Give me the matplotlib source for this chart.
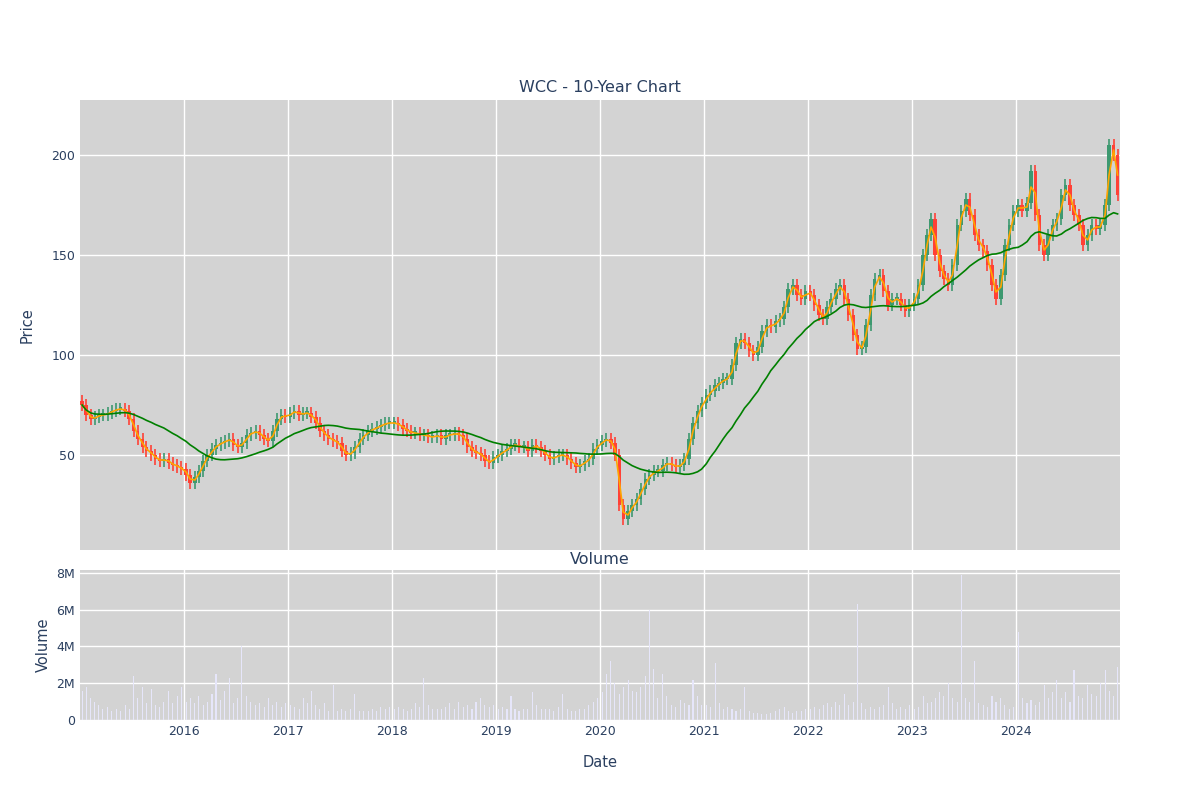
import matplotlib.pyplot as plt
import numpy as np
import pandas as pd

# semi-monthly closing prices, 2015-2024
close = [
    75, 70, 68, 69, 70, 70, 71, 72, 73, 73, 72, 68, 62, 58, 54, 52, 50, 48, 47, 48, 46, 45, 44, 43,
    40, 36, 39, 42, 47, 50, 53, 55, 56, 57, 58, 55, 54, 56, 60, 61, 62, 60, 58, 57, 62, 68, 70, 69,
    71, 72, 70, 71, 71, 69, 66, 62, 60, 58, 57, 56, 52, 50, 51, 54, 58, 60, 62, 63, 64, 65, 66, 66,
    66, 65, 63, 62, 61, 61, 60, 60, 59, 59, 60, 58, 60, 60, 61, 60, 58, 54, 52, 51, 50, 47, 46, 49,
    50, 52, 53, 55, 55, 54, 54, 52, 55, 54, 52, 50, 48, 49, 50, 50, 48, 46, 44, 45, 47, 48, 53, 55,
    57, 58, 56, 50, 25, 18, 22, 25, 28, 33, 38, 40, 42, 42, 45, 46, 45, 44, 45, 48, 58, 66, 72, 76,
    80, 82, 85, 86, 88, 88, 95, 106, 108, 106, 102, 100, 104, 112, 115, 114, 117, 118, 124, 133, 135, 130, 128, 132,
    130, 125, 120, 118, 124, 128, 133, 135, 128, 120, 110, 103, 104, 115, 130, 138, 140, 132, 125, 128, 128, 125, 122, 125,
    128, 135, 150, 160, 168, 150, 142, 138, 135, 145, 165, 172, 178, 170, 160, 155, 152, 145, 135, 128, 140, 155, 165, 172,
    175, 172, 176, 192, 170, 155, 150, 160, 165, 168, 180, 185, 175, 170, 165, 155, 160, 165, 163, 165, 175, 205, 200, 180,
]

# semi-monthly peak volume (millions)
volume = [
    1.6, 1.8, 1.2, 1.0, 0.8, 0.6, 0.7, 0.5, 0.6, 0.5, 0.8, 0.6, 2.4, 1.2, 1.8, 0.9, 1.7, 0.8, 0.7, 1.0, 1.6, 0.9, 1.3, 1.8,
    1.0, 1.2, 0.9, 1.3, 0.8, 1.0, 1.4, 2.5, 1.1, 1.6, 2.3, 0.9, 1.2, 4.0, 1.3, 1.0, 0.8, 0.9, 0.7, 1.2, 0.8, 1.0, 0.7, 0.9,
    0.8, 0.7, 0.6, 1.2, 0.9, 1.6, 0.8, 0.6, 0.9, 0.5, 1.9, 0.5, 0.6, 0.5, 0.6, 1.4, 0.5, 0.5, 0.5, 0.6, 0.5, 0.7, 0.6, 0.7,
    0.6, 0.7, 0.6, 0.5, 0.6, 0.9, 0.7, 2.3, 0.8, 0.6, 0.6, 0.6, 0.7, 0.9, 0.6, 1.0, 0.7, 0.8, 0.6, 1.0, 1.2, 0.8, 0.7, 0.8,
    0.6, 0.7, 0.6, 1.3, 0.6, 0.5, 0.6, 0.6, 1.5, 0.8, 0.6, 0.6, 0.6, 0.5, 0.7, 1.4, 0.6, 0.5, 0.5, 0.6, 0.6, 0.8, 1.0, 1.2,
    1.5, 2.5, 3.2, 2.0, 1.4, 1.8, 2.2, 1.6, 1.5, 1.8, 2.4, 6.0, 2.8, 1.2, 2.5, 1.3, 0.8, 0.7, 1.1, 0.9, 0.8, 2.2, 1.3, 0.8,
    0.8, 0.7, 3.1, 0.9, 0.6, 0.7, 0.6, 0.5, 0.6, 1.8, 0.5, 0.4, 0.4, 0.3, 0.3, 0.4, 0.5, 0.6, 0.7, 0.5, 0.4, 0.5, 0.5, 0.6,
    0.6, 0.7, 0.6, 0.8, 0.9, 0.7, 1.0, 0.8, 1.4, 0.8, 1.0, 6.3, 0.9, 0.6, 0.7, 0.6, 0.7, 0.8, 1.8, 0.9, 0.6, 0.7, 0.6, 0.8,
    0.6, 0.7, 1.3, 0.9, 1.0, 1.2, 1.5, 1.3, 2.0, 1.2, 1.0, 7.9, 1.2, 1.0, 3.2, 0.9, 0.8, 0.7, 1.3, 1.0, 1.2, 0.8, 0.6, 0.7,
    4.8, 1.2, 0.9, 1.1, 0.8, 1.0, 1.9, 1.2, 1.5, 2.2, 1.2, 1.5, 1.0, 2.7, 1.3, 1.2, 1.9, 1.4, 1.3, 2.0, 2.7, 1.6, 1.3, 2.9,
]

dates = pd.date_range("2015-01-01", periods=240, freq="SMS")
step = pd.Timedelta(days=15)
s = pd.Series(close, index=dates)
opens = [close[0] + 2] + close[:-1]
ma_fast = s.rolling(2, min_periods=1).mean()
ma_slow = s.rolling(20, min_periods=1).mean()

bg = "#d3d3d3"
txt = "#2a3f5f"
fig = plt.figure(figsize=(12, 8), dpi=100)
ax = fig.add_axes([80 / 1200, 250 / 800, 1040 / 1200, 450 / 800])
axv = fig.add_axes([80 / 1200, 80 / 800, 1040 / 1200, 150 / 800], sharex=ax)

for a in (ax, axv):
    a.set_facecolor(bg)
    a.grid(True, color="white", linewidth=1)
    a.set_axisbelow(True)
    for sp in a.spines.values():
        sp.set_visible(False)
    a.tick_params(colors=txt, length=0, labelsize=9)

for d, o, c in zip(dates, opens, close):
    col = "#3d9970" if c >= o else "#ff4136"
    lo, hi = min(o, c), max(o, c)
    ax.bar(d + step / 2, max(hi - lo, 1), bottom=lo, width=step * 0.8, color=col, linewidth=0)
    ax.vlines(d + step / 2, lo - 3, hi + 3, color=col, linewidth=1.2)

ax.plot(dates + step / 2, ma_fast, color="orange", linewidth=1.2)
ax.plot(dates + step / 2, ma_slow, color="green", linewidth=1.2)
ax.set_ylim(2.5, 227.5)
ax.set_yticks([50, 100, 150, 200])
ax.set_xlim(pd.Timestamp("2015-01-01"), pd.Timestamp("2024-12-31"))
ax.set_ylabel("Price", color=txt, fontsize=10.5, labelpad=12)
ax.set_title("WCC - 10-Year Chart", color=txt, fontsize=11.5)
plt.setp(ax.get_xticklabels(), visible=False)

axv.bar(dates + step / 2, np.array(volume) * 1e6, width=step * 0.25, color="#e6e6fa", linewidth=0)
axv.set_ylim(0, 8.16e6)
axv.set_yticks([0, 2e6, 4e6, 6e6, 8e6])
axv.set_yticklabels(["0", "2M", "4M", "6M", "8M"])
axv.set_ylabel("Volume", color=txt, fontsize=10.5)
axv.set_xlabel("Date", color=txt, fontsize=10.5, labelpad=12)
axv.set_title("Volume", color=txt, fontsize=11.5, pad=4)
axv.set_xticks(pd.date_range("2016-01-01", "2024-01-01", freq="YS"))
axv.set_xticklabels([str(y) for y in range(2016, 2025)])

fig.savefig("out.png")
